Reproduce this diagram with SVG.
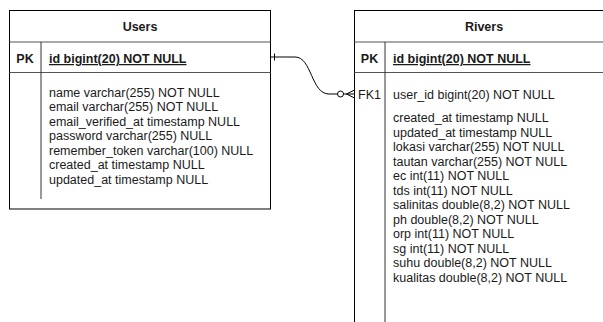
<svg xmlns="http://www.w3.org/2000/svg" width="603" height="322" viewBox="0 0 603 322">
  <style>
    .box { fill: #ffffff; stroke: #000000; stroke-width: 1; }
    .sep { stroke: #555555; stroke-width: 1.2; fill: none; }
    .col { stroke: #333333; stroke-width: 1; fill: none; }
    text { font-family: "Liberation Sans", Arial, sans-serif; font-size: 12.5px; fill: #1a1a1a; }
    .title { font-weight: bold; text-anchor: middle; }
    .key { text-anchor: middle; }
    .pk { font-weight: bold; }
    .pkf { font-weight: bold; text-decoration: underline; }
    .edge { fill: none; stroke: #000000; stroke-width: 1; }
  </style>

  <!-- Users table -->
  <g id="users">
    <rect class="box" x="9.5" y="10.5" width="261" height="198.5"/>
    <line class="sep" x1="9.5" y1="42" x2="270.5" y2="42"/>
    <line class="sep" x1="9.5" y1="72.5" x2="270.5" y2="72.5"/>
    <line class="col" x1="41" y1="42" x2="41" y2="72.5"/>
    <line class="col" x1="41" y1="72.5" x2="41" y2="199"/>
    <text class="title" x="140" y="31">Users</text>
    <text class="key pk" x="25" y="63">PK</text>
    <text class="pkf" x="49" y="63">id bigint(20) NOT NULL</text>
    <text x="49" y="96.5">
      <tspan x="49" dy="0">name varchar(255) NOT NULL</tspan>
      <tspan x="49" dy="14.5">email varchar(255) NOT NULL</tspan>
      <tspan x="49" dy="14.5">email_verified_at timestamp NULL</tspan>
      <tspan x="49" dy="14.5">password varchar(255) NULL</tspan>
      <tspan x="49" dy="14.5">remember_token varchar(100) NULL</tspan>
      <tspan x="49" dy="14.5">created_at timestamp NULL</tspan>
      <tspan x="49" dy="14.5">updated_at timestamp NULL</tspan>
    </text>
  </g>

  <!-- Rivers table -->
  <g id="rivers">
    <rect class="box" x="354.5" y="10.5" width="270" height="330"/>
    <line class="sep" x1="354.5" y1="42" x2="603" y2="42"/>
    <line class="sep" x1="354.5" y1="72.5" x2="603" y2="72.5"/>
    <line class="col" x1="385" y1="42" x2="385" y2="322"/>
    <text class="title" x="484" y="31">Rivers</text>
    <text class="key pk" x="369.5" y="63">PK</text>
    <text class="pkf" x="393" y="63">id bigint(20) NOT NULL</text>
    <text class="key" x="369.5" y="98.5">FK1</text>
    <text x="393" y="98.5">user_id bigint(20) NOT NULL</text>
    <text x="393" y="122">
      <tspan x="393" dy="0">created_at timestamp NULL</tspan>
      <tspan x="393" dy="14.5">updated_at timestamp NULL</tspan>
      <tspan x="393" dy="14.5">lokasi varchar(255) NOT NULL</tspan>
      <tspan x="393" dy="14.5">tautan varchar(255) NOT NULL</tspan>
      <tspan x="393" dy="14.5">ec int(11) NOT NULL</tspan>
      <tspan x="393" dy="14.5">tds int(11) NOT NULL</tspan>
      <tspan x="393" dy="14.5">salinitas double(8,2) NOT NULL</tspan>
      <tspan x="393" dy="14.5">ph double(8,2) NOT NULL</tspan>
      <tspan x="393" dy="14.5">orp int(11) NOT NULL</tspan>
      <tspan x="393" dy="14.5">sg int(11) NOT NULL</tspan>
      <tspan x="393" dy="14.5">suhu double(8,2) NOT NULL</tspan>
      <tspan x="393" dy="14.5">kualitas double(8,2) NOT NULL</tspan>
    </text>
  </g>

  <!-- relationship: one user to zero-or-many rivers -->
  <g id="connectors">
    <path class="edge" d="M270.5,57 L295,57 C312,57 311,94 329,94 L337.5,94"/>
    <line class="edge" x1="274.5" y1="53.5" x2="274.5" y2="60.5"/>
    <circle class="edge" cx="340.5" cy="94" r="3"/>
    <line class="edge" x1="343.5" y1="94" x2="354.5" y2="94"/>
    <path class="edge" d="M354.5,90 L346.5,94 L354.5,98"/>
  </g>
</svg>
